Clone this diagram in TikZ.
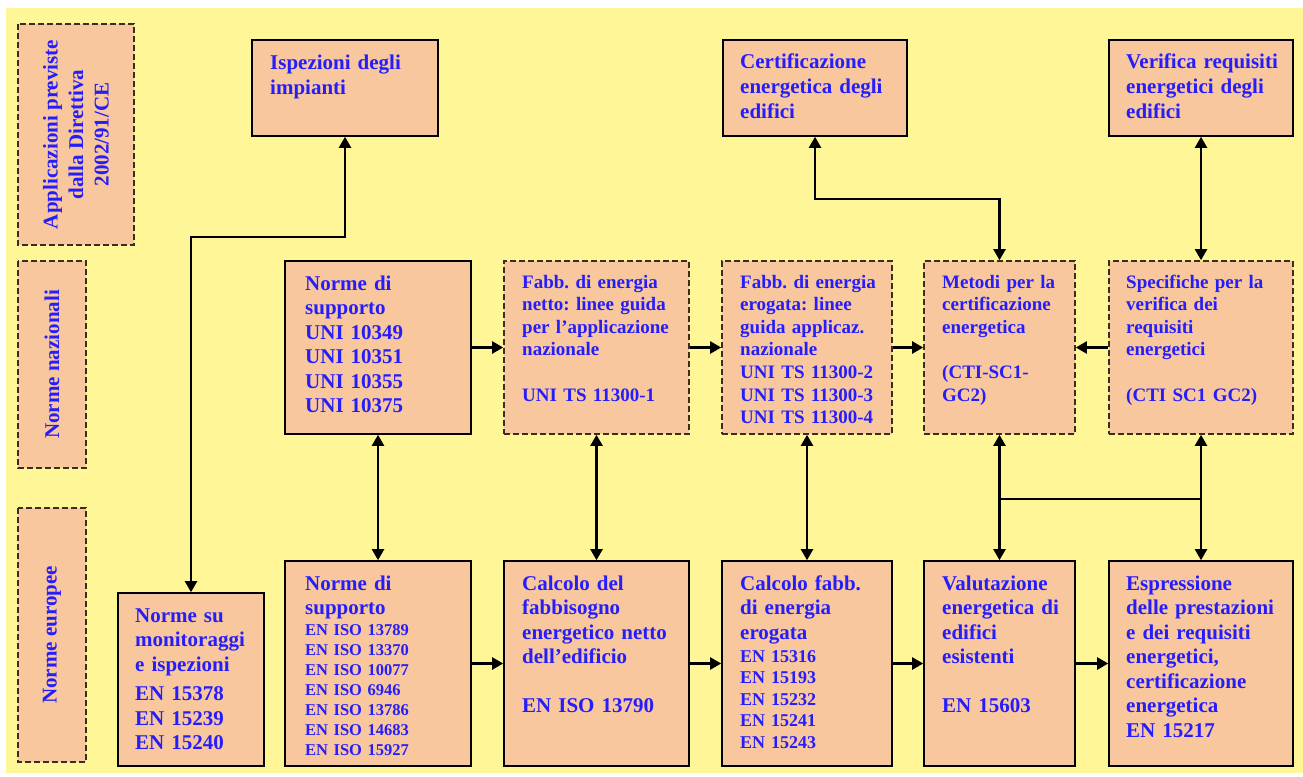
\documentclass[tikz,border=0pt]{standalone}
\usepackage{fontspec}
\setmainfont{Liberation Serif}
\usetikzlibrary{arrows.meta}
\frenchspacing

\definecolor{bgyellow}{RGB}{255,246,152}
\definecolor{peach}{RGB}{249,199,158}
\definecolor{txtblue}{RGB}{38,30,250}
\definecolor{dashbrown}{RGB}{60,45,30}

\tikzset{
  box/.style={draw=black, line width=1.6pt, fill=peach, inner sep=0pt},
  dbox/.style={box, draw=dashbrown, dash pattern=on 6pt off 3pt},
  txt/.style={text=txtblue, inner sep=0pt, align=left, anchor=base west, text width=170,
    font=\bfseries\fontsize{21}{24.5}\selectfont},
  smalltxt/.style={txt, font=\bfseries\fontsize{19}{22.6}\selectfont},
  listtxt/.style={txt, font=\bfseries\fontsize{16.5}{20}\selectfont},
  entxt/.style={txt, font=\bfseries\fontsize{18}{21.5}\selectfont},
  side/.style={dbox, rotate=90, text=txtblue, align=center,
    font=\bfseries\fontsize{21}{25.5}\selectfont},
  line/.style={line width=2.2pt},
  link/.style={line, -{Triangle[length=11pt,width=12pt]}},
  dlink/.style={line, {Triangle[length=11pt,width=12pt]}-{Triangle[length=11pt,width=12pt]}}
}

\begin{document}
\begin{tikzpicture}[x=1pt, y=-1pt]
\useasboundingbox (0,0) rectangle (1303,776);
\fill[white] (0,0) rectangle (1303,776);
\fill[bgyellow] (6,8) rectangle (1303,773);

% side labels
\node[side, minimum width=221, minimum height=116] at (76,134.5) (sideDir) {Applicazioni previste\\dalla Direttiva\\2002/91/CE};
\node[side, minimum width=207, minimum height=68] at (52,364.5) (sideNaz) {Norme nazionali};
\node[side, minimum width=254, minimum height=68] at (52,635) (sideEur) {Norme europee};

% top row
\node[box, minimum width=186, minimum height=96] at (345,88) (ispezioni) {};
\node[box, minimum width=184, minimum height=96] at (815,88) (certif) {};
\node[box, minimum width=184, minimum height=96] at (1201,88) (verifica) {};

\node[txt] at (270,70) (ispezioniT) {Ispezioni degli\\impianti};
\node[txt] at (740,69) (certifT) {Certificazione\\energetica degli\\edifici};
\node[txt] at (1126,69) (verificaT) {Verifica requisiti\\energetici degli\\edifici};

% norme nazionali
\node[box, minimum width=186, minimum height=173] at (378,347.5) (suppNaz) {};
\node[dbox, minimum width=185, minimum height=173] at (596.5,347.5) (fabbNetto) {};
\node[dbox, minimum width=170, minimum height=173] at (807,347.5) (fabbErog) {};
\node[dbox, minimum width=151, minimum height=173] at (999.5,347.5) (metodi) {};
\node[dbox, minimum width=184, minimum height=173] at (1201,347.5) (specifiche) {};

\node[txt] at (305,290) (suppNazT) {Norme di\\supporto\\UNI 10349\\UNI 10351\\UNI 10355\\UNI 10375};
\node[smalltxt] at (522,288) (fabbNettoT) {Fabb. di energia\\netto: linee guida\\per l'applicazione\\nazionale\\[22.6pt]UNI TS 11300-1};
\node[smalltxt] at (740,288) (fabbErogT) {Fabb. di energia\\erogata: linee\\guida applicaz.\\nazionale\\UNI TS 11300-2\\UNI TS 11300-3\\UNI TS 11300-4};
\node[smalltxt] at (942,288) (metodiT) {Metodi per la\\certificazione\\energetica\\[22.6pt](CTI-SC1-\\GC2)};
\node[smalltxt] at (1126,288) (specificheT) {Specifiche per la\\verifica dei\\requisiti\\energetici\\[22.6pt](CTI SC1 GC2)};

% norme europee
\node[box, minimum width=146, minimum height=173] at (191,679.5) (monitor) {};
\node[box, minimum width=186, minimum height=205] at (378,663.5) (suppEur) {};
\node[box, minimum width=185, minimum height=205] at (596.5,663.5) (calcNetto) {};
\node[box, minimum width=170, minimum height=205] at (807,663.5) (calcErog) {};
\node[box, minimum width=151, minimum height=205] at (999.5,663.5) (valut) {};
\node[box, minimum width=184, minimum height=205] at (1201,663.5) (espress) {};

\node[txt] at (135,622) (monitorT) {Norme su\\monitoraggi\\e ispezioni\\[5pt]EN 15378\\EN 15239\\EN 15240};
\node[txt] at (305,590) (suppEurT) {Norme di\\supporto};
\node[listtxt] at (305,635) (suppEurL) {EN ISO 13789\\EN ISO 13370\\EN ISO 10077\\EN ISO 6946\\EN ISO 13786\\EN ISO 14683\\EN ISO 15927};
\node[txt] at (522,590) (calcNettoT) {Calcolo del\\fabbisogno\\energetico netto\\dell'edificio\\[24.5pt]EN ISO 13790};
\node[txt] at (740,590) (calcErogT) {Calcolo fabb.\\di energia\\erogata};
\node[entxt] at (740,662) (calcErogL) {EN 15316\\EN 15193\\EN 15232\\EN 15241\\EN 15243};
\node[txt] at (942,590) (valutT) {Valutazione\\energetica di\\edifici\\esistenti\\[24.5pt]EN 15603};
\node[txt] at (1126,590) (espressT) {Espressione\\delle prestazioni\\e dei requisiti\\energetici,\\certificazione\\energetica\\EN 15217};

% connectors
\coordinate (ispK) at (345,237);
\coordinate (certK) at (999.5,199);
\coordinate (joinL) at (999.5,499);
\coordinate (joinR) at (1201,499);

\draw[dlink] (monitor.north) |- (ispK) -- (ispezioni.south);
\draw[dlink] (certif.south) |- (certK) -- (metodi.north);
\draw[dlink] (verifica.south) -- (specifiche.north);

\draw[link] (suppNaz.east) -- (fabbNetto.west);
\draw[link] (fabbNetto.east) -- (fabbErog.west);
\draw[link] (fabbErog.east) -- (metodi.west);
\draw[link] (specifiche.west) -- (metodi.east);

\draw[dlink] (suppNaz.south) -- (suppEur.north);
\draw[dlink] (fabbNetto.south) -- (calcNetto.north);
\draw[dlink] (fabbErog.south) -- (calcErog.north);
\draw[dlink] (metodi.south) -- (valut.north);
\draw[dlink] (specifiche.south) -- (espress.north);
\draw[line] (joinL) -- (joinR);

\draw[link] (suppEur.east) -- (calcNetto.west);
\draw[link] (calcNetto.east) -- (calcErog.west);
\draw[link] (calcErog.east) -- (valut.west);
\draw[link] (valut.east) -- (espress.west);

\end{tikzpicture}
\end{document}
